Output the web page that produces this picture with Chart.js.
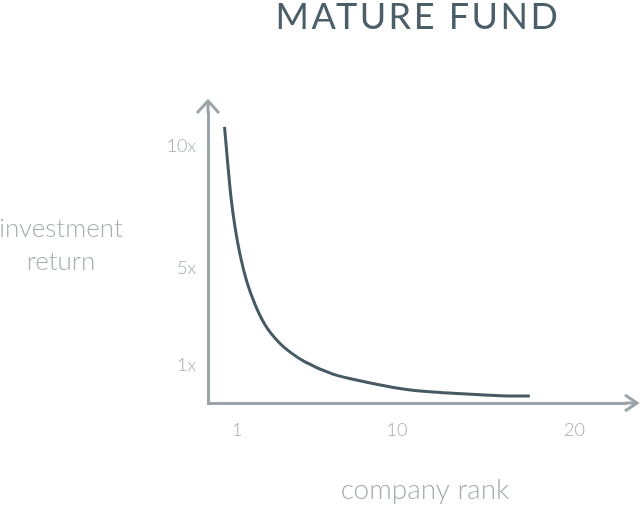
<!DOCTYPE html>
<html>
<head>
<meta charset="utf-8">
<script src="https://cdn.jsdelivr.net/npm/chart.js@4.4.1/dist/chart.umd.min.js"></script>
<style>
  html, body { margin: 0; padding: 0; background: #fff; }
  #wrap { width: 640px; height: 506px; }
</style>
</head>
<body>
<div id="wrap"><canvas id="fundChart"></canvas></div>
<script>
// ---- data ----
const chartTitle = "MATURE FUND";
const yAxisTitle = ["investment", "return"];
const xAxisTitle = "company rank";

const xTickValues = [1, 10, 20];
const yTickValues = [1, 5, 10];

// company rank vs. investment return
const rankValues   = [0.28, 0.47, 0.65, 0.88, 1.16, 1.54, 2.01, 2.57, 3.31, 4.07, 4.82, 6.39, 8.30, 10.16, 12.02, 13.93, 15.79, 17.48];
const returnValues = [10.82, 9.24, 7.88, 6.64, 5.53, 4.42, 3.47, 2.64, 1.95, 1.47, 1.12, 0.61, 0.28, 0.02, -0.13, -0.21, -0.28, -0.29];

const axisColor = "#9ba5a9";
const lineColor = "#465a63";
const tickColor = "#a4a9ac";

// arrows at the ends of both axes + free text titles
const arrowsAndTitles = {
    id: "arrowsAndTitles",
    afterDraw(chart) {
        const { ctx, chartArea: a } = chart;
        ctx.save();
        ctx.strokeStyle = axisColor;
        ctx.lineWidth = 3;
        ctx.lineCap = "butt";
        ctx.lineJoin = "miter";

        // y axis arrow
        ctx.beginPath();
        ctx.moveTo(a.left, a.top + 1);
        ctx.lineTo(a.left, a.top - 11);
        ctx.stroke();
        ctx.beginPath();
        ctx.moveTo(a.left - 11, a.top + 1);
        ctx.lineTo(a.left, a.top - 11);
        ctx.lineTo(a.left + 11, a.top + 1);
        ctx.stroke();

        // x axis arrow
        ctx.beginPath();
        ctx.moveTo(a.right - 1, a.bottom);
        ctx.lineTo(a.right + 11, a.bottom);
        ctx.stroke();
        ctx.beginPath();
        ctx.moveTo(a.right - 1, a.bottom - 8);
        ctx.lineTo(a.right + 11, a.bottom);
        ctx.lineTo(a.right - 1, a.bottom + 8);
        ctx.stroke();

        // chart title
        ctx.fillStyle = "#4b5f69";
        ctx.font = "400 36px Lato";
        ctx.letterSpacing = "2.5px";
        ctx.textAlign = "center";
        ctx.textBaseline = "alphabetic";
        ctx.fillText(chartTitle, 418, 29);
        ctx.letterSpacing = "0px";

        // axis titles
        ctx.fillStyle = "#a7acaf";
        ctx.textBaseline = "middle";
        ctx.font = "300 26px Lato";
        yAxisTitle.forEach((t, i) => ctx.fillText(t, 61, 229 + i * 33));
        ctx.font = "300 28px Lato";
        ctx.fillText(xAxisTitle, 425, 490);
        ctx.restore();
    }
};

const ctx = document.getElementById("fundChart");

new Chart(ctx, {
    type: "line",
    data: {
        datasets: [{
            data: rankValues.map((r, i) => ({ x: r, y: returnValues[i] })),
            borderColor: lineColor,
            borderWidth: 3,
            pointRadius: 0,
            fill: false,
            cubicInterpolationMode: "monotone",
            borderCapStyle: "butt"
        }]
    },
    options: {
        responsive: true,
        maintainAspectRatio: false,
        animation: false,
        layout: { padding: { top: 112, right: 14, left: 0, bottom: 0 } },
        plugins: {
            legend: { display: false },
            tooltip: { enabled: false },
            title: { display: false }
        },
        scales: {
            x: {
                type: "linear",
                min: -0.65,
                max: 22.9,
                afterBuildTicks: (s) => { s.ticks = xTickValues.map(v => ({ value: v })); },
                afterFit: (s) => { s.height = 103; },
                ticks: {
                    color: tickColor,
                    font: { family: "Lato", size: 18, weight: 300 },
                    padding: 16,
                    maxRotation: 0,
                    callback: (v) => String(v)
                },
                grid: { color: "transparent", drawTicks: false },
                border: { display: true, color: axisColor, width: 3 }
            },
            y: {
                type: "linear",
                min: -0.58,
                max: 11.43,
                afterBuildTicks: (s) => { s.ticks = yTickValues.map(v => ({ value: v })); },
                afterFit: (s) => { s.width = 208; },
                ticks: {
                    color: tickColor,
                    font: { family: "Lato", size: 18, weight: 300 },
                    padding: 12,
                    callback: (v) => v + "x"
                },
                grid: { color: "transparent", drawTicks: false },
                border: { display: true, color: axisColor, width: 3 }
            }
        }
    },
    plugins: [arrowsAndTitles]
});
</script>
</body>
</html>
